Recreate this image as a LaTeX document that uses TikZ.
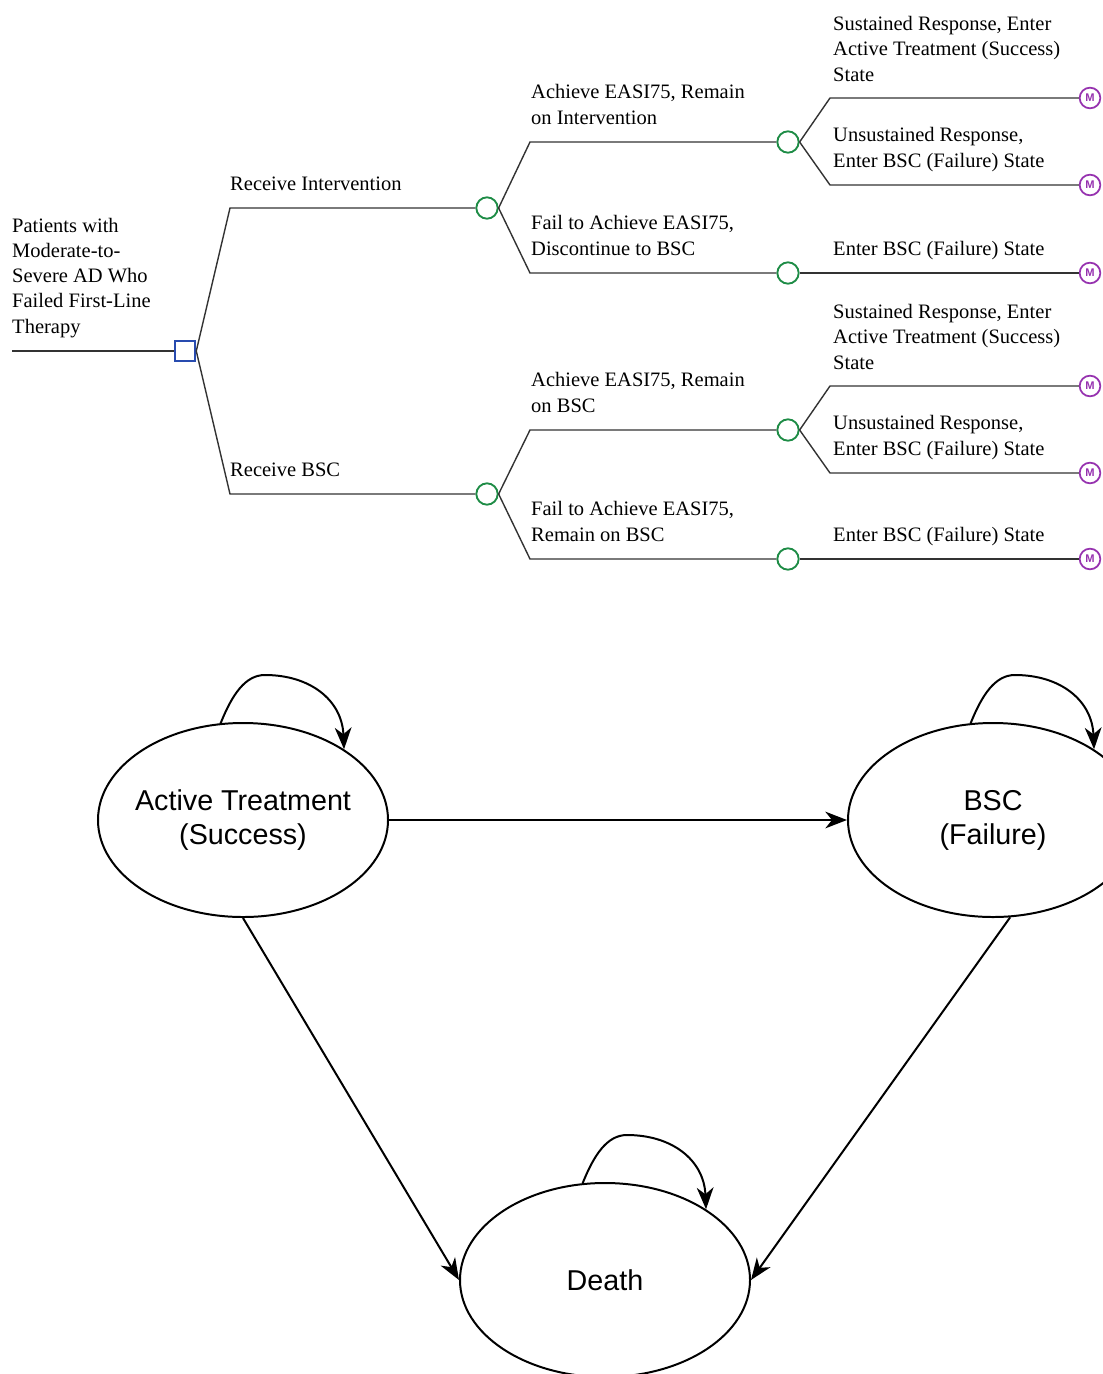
\documentclass[tikz,border=0pt]{standalone}
\usepackage{fontspec}
\setmainfont{Liberation Serif}
\setsansfont{Liberation Sans}
\usetikzlibrary{shapes.geometric, arrows.meta}
\definecolor{chancegreen}{RGB}{30,140,70}
\definecolor{decblue}{RGB}{40,75,175}
\definecolor{markovpurple}{RGB}{150,50,175}

\begin{document}
\begin{tikzpicture}[x=0.03cm, y=-0.03cm]
\tikzstyle{branch} = [line width=1.2pt, draw=black!80]
\tikzstyle{decision} = [rectangle, draw=decblue, line width=1.6pt, minimum size=0.62cm, inner sep=0]
\tikzstyle{chance} = [circle, draw=chancegreen, line width=1.6pt, minimum size=0.64cm, inner sep=0]
\tikzstyle{markov} = [circle, draw=markovpurple, line width=1.5pt, minimum size=0.62cm, inner sep=0, text=markovpurple, font=\sffamily\bfseries\fontsize{9.5}{9.5}\selectfont]
\tikzstyle{lbl} = [anchor=south west, inner sep=0, align=left, text depth=4pt, font=\fontsize{17.5}{21.5}\selectfont]
\tikzstyle{state} = [ellipse, draw, line width=1.7pt, minimum width=8.7cm, minimum height=5.82cm, inner sep=0]
\tikzstyle{statetext} = [align=center, inner sep=0, font=\sffamily\fontsize{24.5}{29}\selectfont]
\tikzstyle{arrow} = [line width=1.7pt, -{Stealth[length=6.5mm, width=5mm, inset=2mm]}]
\clip (0,0) rectangle (1103,1374);

% Tree nodes
\coordinate (start) at (12,351);
\node (dec) [decision] at (185,351) {};
\node (ci) [chance] at (487,208) {};
\node (cb) [chance] at (487,494) {};
\node (ci1) [chance] at (788,142) {};
\node (ci2) [chance] at (788,273) {};
\node (cb1) [chance] at (788,430) {};
\node (cb2) [chance] at (788,559) {};
\node (m1) [markov] at (1090,98) {M};
\node (m2) [markov] at (1090,185) {M};
\node (m3) [markov] at (1090,273) {M};
\node (m4) [markov] at (1090,386) {M};
\node (m5) [markov] at (1090,473) {M};
\node (m6) [markov] at (1090,559) {M};
\coordinate (k1) at (230,208);
\coordinate (k2) at (230,494);
\coordinate (k3) at (530,142);
\coordinate (k4) at (530,273);
\coordinate (k5) at (530,430);
\coordinate (k6) at (530,559);
\coordinate (k7) at (830,98);
\coordinate (k8) at (830,185);
\coordinate (k9) at (830,386);
\coordinate (k10) at (830,473);

% Tree branches
\draw [branch] (start) -- (dec.west);
\draw [branch] (dec.east) -- (k1) -- (ci.west);
\draw [branch] (dec.east) -- (k2) -- (cb.west);
\draw [branch] (ci.east) -- (k3) -- (ci1.west);
\draw [branch] (ci.east) -- (k4) -- (ci2.west);
\draw [branch] (ci1.east) -- (k7) -- (m1.west);
\draw [branch] (ci1.east) -- (k8) -- (m2.west);
\draw [branch] (ci2.east) -- (m3.west);
\draw [branch] (cb.east) -- (k5) -- (cb1.west);
\draw [branch] (cb.east) -- (k6) -- (cb2.west);
\draw [branch] (cb1.east) -- (k9) -- (m4.west);
\draw [branch] (cb1.east) -- (k10) -- (m5.west);
\draw [branch] (cb2.east) -- (m6.west);

% Tree labels
\node (lpat) [lbl] at (12,338) {Patients with\\Moderate-to-\\Severe AD Who\\Failed First-Line\\Therapy};
\node (lri) [lbl] at (230,195) {Receive Intervention};
\node (lrb) [lbl] at (230,481) {Receive BSC};
\node (lai) [lbl] at (531,129) {Achieve EASI75, Remain\\on Intervention};
\node (lfi) [lbl] at (531,260) {Fail to Achieve EASI75,\\Discontinue to BSC};
\node (lsi) [lbl] at (833,86) {Sustained Response, Enter\\Active Treatment (Success)\\State};
\node (lui) [lbl] at (833,172) {Unsustained Response,\\Enter BSC (Failure) State};
\node (lei) [lbl] at (833,260) {Enter BSC (Failure) State};
\node (lab) [lbl] at (531,417) {Achieve EASI75, Remain\\on BSC};
\node (lfb) [lbl] at (531,546) {Fail to Achieve EASI75,\\Remain on BSC};
\node (lsb) [lbl] at (833,374) {Sustained Response, Enter\\Active Treatment (Success)\\State};
\node (lub) [lbl] at (833,460) {Unsustained Response,\\Enter BSC (Failure) State};
\node (leb) [lbl] at (833,546) {Enter BSC (Failure) State};

% Markov states
\node (act) [state, label={[statetext]center:Active Treatment\\(Success)}] at (243,820) {};
\node (bsc) [state, label={[statetext]center:BSC\\(Failure)}] at (993,820) {};
\node (death) [state, label={[statetext]center:Death}] at (605,1280) {};

% Transitions
\draw [arrow] (act) -- (bsc);
\draw [arrow] (act.south) -- (death.west);
\draw [arrow] (bsc.-80) -- (death.east);
\draw [arrow] (act.103) .. controls (232,695) and (245,675) .. (265,675) .. controls (310,675) and (342,700) .. (act.35);
\draw [arrow] (bsc.103) .. controls (982,695) and (995,675) .. (1015,675) .. controls (1060,675) and (1092,700) .. (bsc.35);
\draw [arrow] (death.103) .. controls (594,1155) and (607,1135) .. (627,1135) .. controls (672,1135) and (704,1160) .. (death.35);

\end{tikzpicture}
\end{document}
